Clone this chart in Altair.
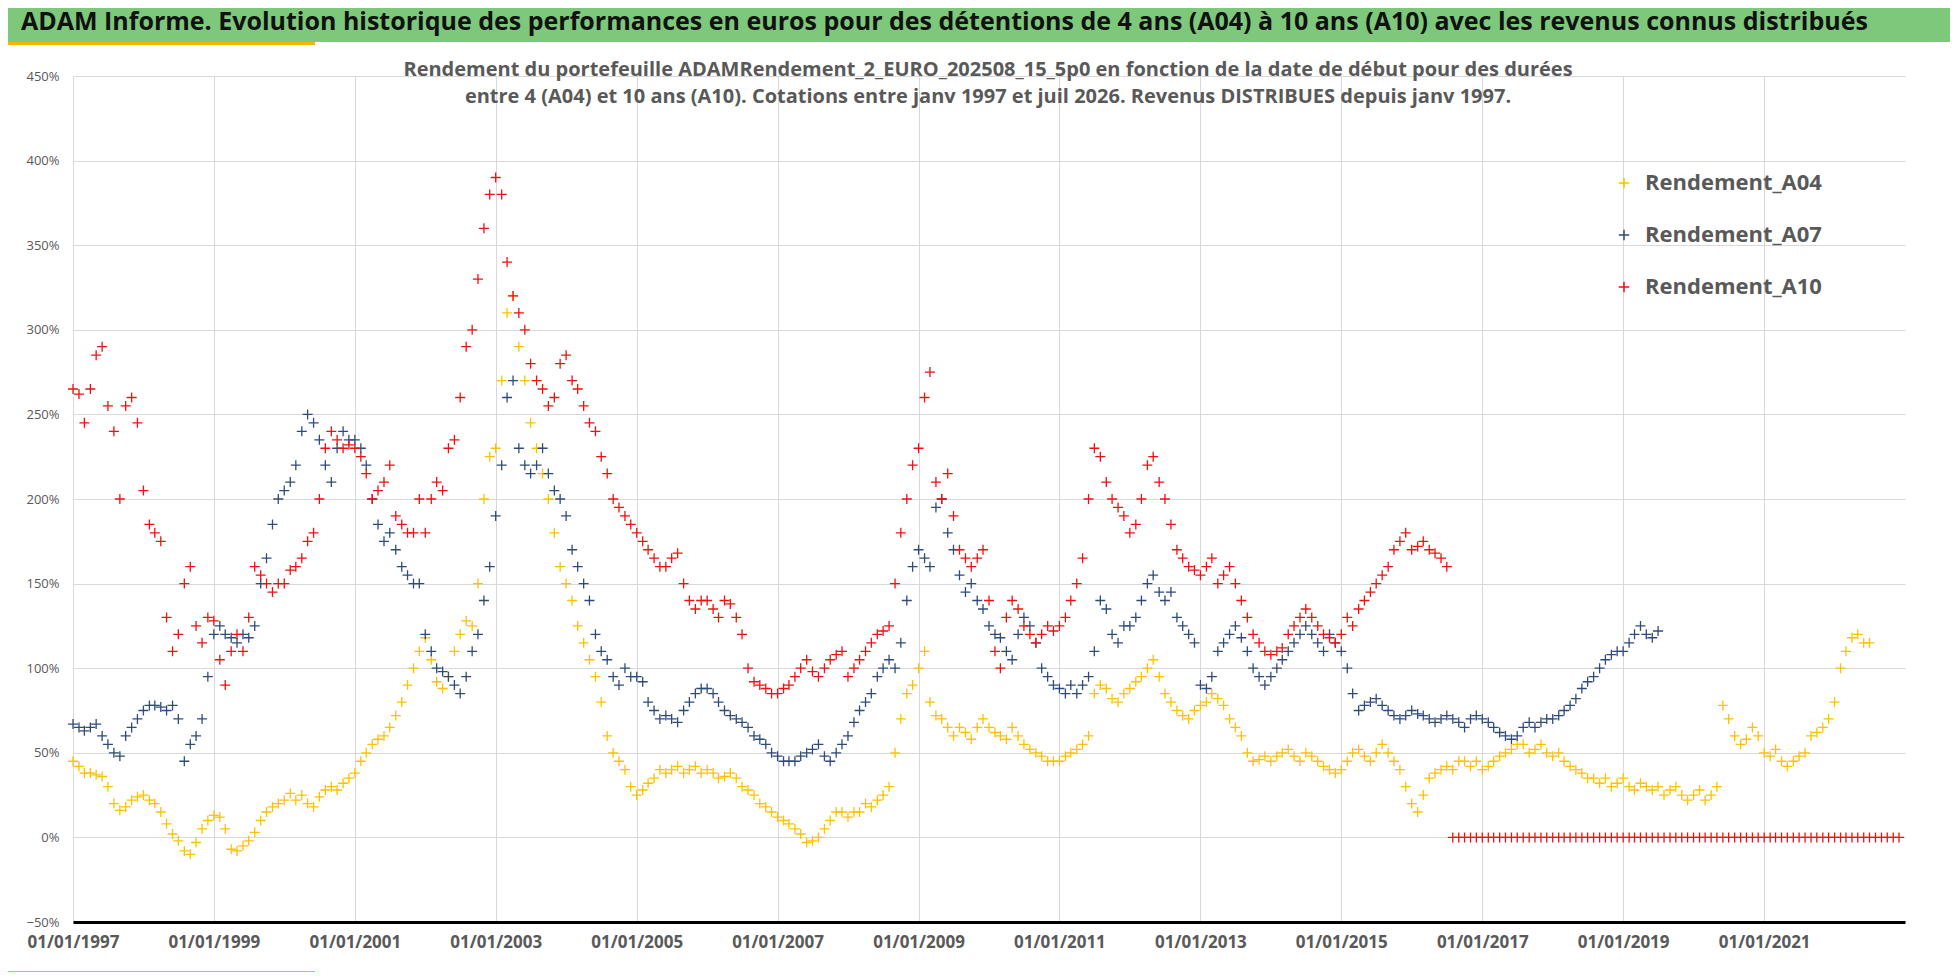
import pandas as pd
import altair as alt

# monthly readings (in %), first value = January 1997
a04 = [
    45, 42, 38, 38, 37, 36, 30, 20, 16, 18, 22, 24,   # 1997
    25, 22, 20, 15, 8, 2, -2, -8, -10, -3, 5, 10,     # 1998
    13, 12, 5, -7, -8, -5, -2, 3, 10, 15, 18, 20,     # 1999
    22, 26, 22, 25, 20, 18, 24, 28, 30, 28, 32, 35,   # 2000
    38, 45, 50, 55, 58, 60, 65, 72, 80, 90, 100, 110, # 2001
    118, 105, 92, 88, 95, 110, 120, 128, 125, 150, 200, 225,  # 2002
    230, 270, 310, 320, 290, 270, 245, 230, 215, 200, 180, 160,  # 2003
    150, 140, 125, 115, 105, 95, 80, 60, 50, 45, 40, 30,  # 2004
    25, 28, 32, 35, 40, 38, 40, 42, 38, 40, 42, 38,   # 2005
    40, 38, 35, 36, 38, 35, 30, 28, 25, 20, 18, 15,   # 2006
    12, 10, 8, 5, 2, -3, -2, 0, 5, 10, 15, 15,        # 2007
    12, 15, 15, 20, 18, 22, 25, 30, 50, 70, 85, 90,   # 2008
    100, 110, 80, 72, 70, 65, 60, 65, 62, 58, 65, 70, # 2009
    65, 62, 60, 58, 65, 60, 55, 52, 50, 48, 45, 45,   # 2010
    45, 48, 50, 52, 55, 60, 85, 90, 88, 82, 80, 85,   # 2011
    88, 92, 95, 100, 105, 95, 85, 80, 75, 72, 70, 75, # 2012
    78, 80, 85, 82, 78, 70, 65, 60, 50, 45, 46, 48,   # 2013
    45, 48, 50, 52, 48, 45, 50, 48, 45, 42, 40, 38,   # 2014
    40, 45, 50, 52, 48, 45, 50, 55, 50, 45, 40, 30,   # 2015
    20, 15, 25, 35, 38, 40, 42, 40, 45, 45, 42, 45,   # 2016
    40, 42, 45, 48, 50, 52, 55, 55, 50, 52, 55, 50,   # 2017
    48, 50, 45, 42, 40, 38, 35, 35, 32, 35, 30, 32,   # 2018
    35, 30, 28, 32, 30, 28, 30, 25, 28, 30, 25, 22,   # 2019
    25, 28, 22, 25, 30, 78, 70, 60, 55, 58, 65, 60,   # 2020
    50, 48, 52, 45, 42, 45, 48, 50, 60, 62, 65, 70,   # 2021
    80, 100, 110, 118, 120, 115, 115,                 # 2022
]

a07 = [
    67, 65, 63, 65, 67, 60, 55, 50, 48, 60, 65, 70,   # 1997
    75, 78, 78, 77, 75, 78, 70, 45, 55, 60, 70, 95,   # 1998
    120, 125, 120, 118, 115, 120, 118, 125, 150, 165, 185, 200,  # 1999
    205, 210, 220, 240, 250, 245, 235, 220, 210, 230, 240, 235,  # 2000
    235, 230, 220, 200, 185, 175, 180, 170, 160, 155, 150, 150,  # 2001
    120, 110, 100, 98, 95, 90, 85, 95, 110, 120, 140, 160,       # 2002
    190, 220, 260, 270, 230, 220, 215, 220, 230, 215, 205, 200,  # 2003
    190, 170, 160, 150, 140, 120, 110, 105, 95, 90, 100, 95,     # 2004
    95, 92, 80, 75, 70, 72, 70, 68, 75, 80, 85, 88,   # 2005
    88, 85, 80, 75, 72, 70, 68, 65, 60, 58, 55, 50,   # 2006
    48, 45, 45, 45, 48, 50, 52, 55, 48, 45, 50, 55,   # 2007
    60, 68, 75, 80, 85, 95, 100, 105, 100, 115, 140, 160,  # 2008
    170, 165, 160, 195, 200, 180, 170, 155, 145, 150, 140, 135,  # 2009
    125, 120, 118, 110, 105, 120, 130, 125, 115, 100, 95, 90,    # 2010
    88, 85, 90, 85, 90, 95, 110, 140, 135, 120, 115, 125,        # 2011
    125, 130, 140, 150, 155, 145, 140, 145, 130, 125, 120, 115,  # 2012
    90, 88, 95, 110, 115, 120, 125, 118, 110, 100, 95, 90,       # 2013
    95, 100, 105, 110, 115, 120, 125, 120, 115, 110, 120, 115,   # 2014
    110, 100, 85, 75, 78, 80, 82, 78, 75, 72, 70, 72,  # 2015
    75, 73, 72, 70, 68, 70, 72, 70, 68, 65, 70, 72,    # 2016
    70, 68, 65, 62, 60, 58, 60, 65, 68, 65, 68, 70,    # 2017
    70, 72, 75, 78, 82, 88, 92, 95, 100, 105, 108, 110,  # 2018
    110, 115, 120, 125, 120, 118, 122,                 # 2019
]

a10 = [
    265, 262, 245, 265, 285, 290, 255, 240, 200, 255, 260, 245,  # 1997
    205, 185, 180, 175, 130, 110, 120, 150, 160, 125, 115, 130,  # 1998
    128, 105, 90, 110, 120, 110, 130, 160, 155, 150, 145, 150,   # 1999
    150, 158, 160, 165, 175, 180, 200, 230, 240, 235, 230, 232,  # 2000
    230, 225, 215, 200, 205, 210, 220, 190, 185, 180, 180, 200,  # 2001
    180, 200, 210, 205, 230, 235, 260, 290, 300, 330, 360, 380,  # 2002
    390, 380, 340, 320, 310, 300, 280, 270, 265, 255, 260, 280,  # 2003
    285, 270, 265, 255, 245, 240, 225, 215, 200, 195, 190, 185,  # 2004
    180, 175, 170, 165, 160, 160, 165, 168, 150, 140, 135, 140,  # 2005
    140, 135, 130, 140, 138, 130, 120, 100, 92, 90, 88, 85,      # 2006
    85, 88, 90, 95, 100, 105, 98, 95, 100, 105, 108, 110,        # 2007
    95, 100, 105, 110, 115, 120, 122, 125, 150, 180, 200, 220,   # 2008
    230, 260, 275, 210, 200, 215, 190, 170, 165, 160, 165, 170,  # 2009
    140, 110, 100, 130, 140, 135, 125, 120, 115, 120, 125, 122,  # 2010
    125, 130, 140, 150, 165, 200, 230, 225, 210, 200, 195, 190,  # 2011
    180, 185, 200, 220, 225, 210, 200, 185, 170, 165, 160, 158,  # 2012
    155, 160, 165, 150, 155, 160, 150, 140, 130, 120, 115, 110,  # 2013
    108, 110, 112, 120, 125, 130, 135, 130, 125, 120, 118, 115,  # 2014
    120, 130, 125, 135, 140, 145, 150, 155, 160, 170, 175, 180,  # 2015
    170, 172, 175, 170, 168, 165, 160,                           # 2016
]
# A10 is shown at 0 from Aug 2016 to Dec 2022 (no 10-year history yet)
a10_zero = [0] * 77

series = ["Rendement_A04", "Rendement_A07", "Rendement_A10"]
colors = ["#FFC000", "#2F4B7C", "#F01010"]

TITLE = ("ADAM Informe. Evolution historique des performances en euros pour des "
         "détentions de 4 ans (A04) à 10 ans (A10) avec les revenus connus distribués")
SUB1 = ("Rendement du portefeuille ADAMRendement_2_EURO_202508_15_5p0  en fonction "
        "de la date de début pour des durées")
SUB2 = ("entre 4 (A04) et 10 ans (A10). Cotations entre janv 1997 et juil 2026. "
        "Revenus DISTRIBUES depuis janv 1997.")


def monthly(values, name, start=pd.Timestamp("1997-01-01")):
    dates = pd.date_range(start, periods=len(values), freq="MS")
    return pd.DataFrame({"date": dates, "value": [v / 100 for v in values], "serie": name})


df = pd.concat([
    monthly(a04, series[0]),
    monthly(a07, series[1]),
    monthly(a10, series[2]),
    monthly(a10_zero, series[2], pd.Timestamp("2016-08-01")),
])

PLUS = "M-1,0L1,0M0,-1L0,1"
W, H = 1832, 846
years = [pd.Timestamp(f"{y}-01-01") for y in range(1997, 2022, 2)]

points = alt.Chart(df).mark_point(shape=PLUS, filled=False, size=100, strokeWidth=1.3, opacity=1).encode(
    x=alt.X("date:T", title=None,
            scale=alt.Scale(domain=[pd.Timestamp("1997-01-01"), pd.Timestamp("2023-01-01")]),
            axis=alt.Axis(values=years, format="%d/%m/%Y", labelFontSize=17, labelFontWeight="bold",
                          labelColor="#595959", domainColor="black", domainWidth=3, ticks=False,
                          gridColor="#d9d9d9", labelPadding=12, labelFont="Open Sans",
                          labelFlush=False)),
    y=alt.Y("value:Q", title=None,
            scale=alt.Scale(domain=[-0.5, 4.5], nice=False),
            axis=alt.Axis(values=[i / 2 - 0.5 for i in range(11)], format=".0%", labelFontSize=13,
                          labelColor="#595959", domain=False, ticks=False, gridColor="#d9d9d9",
                          labelPadding=14, labelFont="Open Sans")),
    color=alt.Color("serie:N", scale=alt.Scale(domain=series, range=colors),
                    legend=alt.Legend(title=None, orient="none", legendX=1540, legendY=96,
                                      labelFontSize=22, labelFontWeight="bold", labelColor="#595959",
                                      symbolType=PLUS, symbolSize=110, symbolStrokeWidth=1.5,
                                      rowPadding=30, labelFont="Open Sans", labelOffset=10,
                                      labelLimit=0)),
)

deco = pd.DataFrame({"k": [0]})
bar = alt.Chart(deco).mark_rect(color="#7DC87A").encode(
    x=alt.value(-80), x2=alt.value(W + 60), y=alt.value(-80), y2=alt.value(-34))
gold = alt.Chart(deco).mark_rect(color="#F5B800").encode(
    x=alt.value(-80), x2=alt.value(242), y=alt.value(-34), y2=alt.value(-31))
gold2 = alt.Chart(deco).mark_rect(color="#F5B800").encode(
    x=alt.value(-80), x2=alt.value(242), y=alt.value(H + 49), y2=alt.value(H + 53))
title = alt.Chart(deco).mark_text(align="left", baseline="middle", fontSize=25, fontWeight="bold",
                                  font="Open Sans", color="#111111").encode(
    x=alt.value(-52), y=alt.value(-54), text=alt.value(TITLE))
sub1 = alt.Chart(deco).mark_text(align="center", baseline="middle", fontSize=20, fontWeight="bold",
                                 font="Open Sans", color="#595959").encode(
    x=alt.value(915), y=alt.value(-6), text=alt.value(SUB1))
sub2 = alt.Chart(deco).mark_text(align="center", baseline="middle", fontSize=20, fontWeight="bold",
                                 font="Open Sans", color="#595959").encode(
    x=alt.value(915), y=alt.value(21), text=alt.value(SUB2))

chart = alt.layer(bar, gold, gold2, title, points, sub1, sub2).properties(
    width=W, height=H,
    autosize=alt.AutoSizeParams(type="none"),
    padding={"left": 65, "top": 68, "right": 45, "bottom": 50},
).configure_view(stroke=None).configure_axisY(domain=False)

chart.save("out.html", embed_options={"renderer": "svg", "actions": False})
